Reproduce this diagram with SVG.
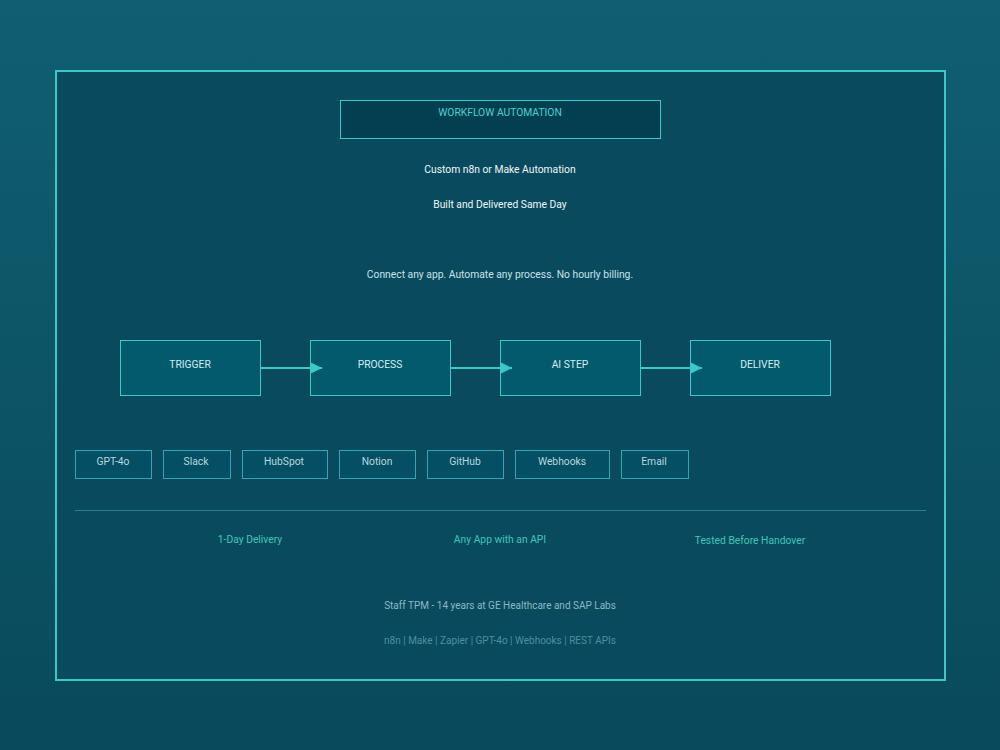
<svg xmlns="http://www.w3.org/2000/svg" width="1000" height="750" viewBox="0 0 1000 750">
<defs>
<linearGradient id="bg" x1="0" y1="0" x2="0" y2="1">
<stop offset="0" stop-color="#0f5f71"/>
<stop offset="1" stop-color="#094a5c"/>
</linearGradient>
<marker id="arr" viewBox="0 0 12 12" refX="12" refY="6" markerWidth="12" markerHeight="12" markerUnits="userSpaceOnUse" orient="auto">
<path d="M0,0 L12,6 L0,12 Z" fill="#3cc8c8"/>
</marker>
<style>
text{font-family:Roboto,"Liberation Sans",sans-serif;text-anchor:middle}
.node rect{fill:#025a6c;stroke:#3cc8c8;stroke-width:1}
.node text{font-size:10.3px;fill:#d6eef0}
.tool rect{fill:#044f63;stroke:#2fa8b0;stroke-width:1}
.tool text{font-size:10.3px;fill:#b5d9de}
.feat{font-size:10.3px;fill:#3cc8b8}
.conn line{stroke:#3cc8c8;stroke-width:2}
</style>
</defs>
<rect width="1000" height="750" fill="url(#bg)"/>
<rect x="56" y="71" width="889" height="609" fill="#0a4a5e" stroke="#3cc8c8" stroke-width="2"/>
<g id="title">
<rect x="340.5" y="100.5" width="320" height="38" fill="#013f51" stroke="#3cc8c8" stroke-width="1"/>
<text x="500" y="116" font-size="10.3" fill="#4fd0d0">WORKFLOW AUTOMATION</text>
</g>
<text x="500" y="173" font-size="10.3" fill="#eef8f8">Custom n8n or Make Automation</text>
<text x="500" y="208" font-size="10.3" fill="#eef8f8">Built and Delivered Same Day</text>
<text x="500" y="278" font-size="10.3" fill="#c6e4e8">Connect any app. Automate any process. No hourly billing.</text>
<g id="trigger" class="node"><rect x="120.5" y="340.5" width="140" height="55"/><text x="190" y="368">TRIGGER</text></g>
<g id="process" class="node"><rect x="310.5" y="340.5" width="140" height="55"/><text x="380" y="368">PROCESS</text></g>
<g id="aistep" class="node"><rect x="500.5" y="340.5" width="140" height="55"/><text x="570" y="368">AI STEP</text></g>
<g id="deliver" class="node"><rect x="690.5" y="340.5" width="140" height="55"/><text x="760" y="368">DELIVER</text></g>
<g id="connectors" class="conn">
<line x1="261" y1="368" x2="322" y2="368" marker-end="url(#arr)"/>
<line x1="451" y1="368" x2="512" y2="368" marker-end="url(#arr)"/>
<line x1="641" y1="368" x2="702" y2="368" marker-end="url(#arr)"/>
</g>
<g id="t-gpt" class="tool"><rect x="75.5" y="450.5" width="76" height="28"/><text x="113" y="465">GPT-4o</text></g>
<g id="t-slack" class="tool"><rect x="163.5" y="450.5" width="67" height="28"/><text x="196" y="465">Slack</text></g>
<g id="t-hubspot" class="tool"><rect x="242.5" y="450.5" width="85" height="28"/><text x="284" y="465">HubSpot</text></g>
<g id="t-notion" class="tool"><rect x="339.5" y="450.5" width="76" height="28"/><text x="377" y="465">Notion</text></g>
<g id="t-github" class="tool"><rect x="427.5" y="450.5" width="76" height="28"/><text x="465" y="465">GitHub</text></g>
<g id="t-webhooks" class="tool"><rect x="515.5" y="450.5" width="94" height="28"/><text x="562" y="465">Webhooks</text></g>
<g id="t-email" class="tool"><rect x="621.5" y="450.5" width="67" height="28"/><text x="654" y="465">Email</text></g>
<line x1="75" y1="510.5" x2="926" y2="510.5" stroke="#2a7f8e" stroke-width="1"/>
<text class="feat" x="250" y="543">1-Day Delivery</text>
<text class="feat" x="500" y="543">Any App with an API</text>
<text class="feat" x="750" y="544">Tested Before Handover</text>
<text x="500" y="609" font-size="10" fill="#8ab9c4">Staff TPM - 14 years at GE Healthcare and SAP Labs</text>
<text x="500" y="644" font-size="10" fill="#4a90a2">n8n | Make | Zapier | GPT-4o | Webhooks | REST APIs</text>
</svg>
